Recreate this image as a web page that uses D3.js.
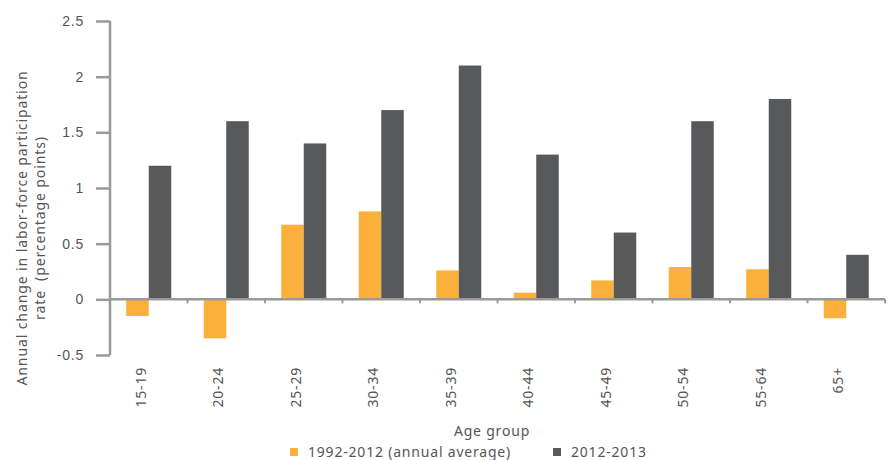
<!DOCTYPE html>
<html>
<head>
<meta charset="utf-8">
<script src="https://cdn.jsdelivr.net/npm/d3@7"></script>
<style>
  html, body { margin: 0; padding: 0; background: #fff; }
  svg { display: block; font-family: "Noto Sans", Roboto, sans-serif; }
  svg text { letter-spacing: 0.8px; }
</style>
</head>
<body>
<svg id="chart" width="890" height="460"></svg>
<script>
// Age groups on the x axis
const ageGroups = ["15-19", "20-24", "25-29", "30-34", "35-39", "40-44", "45-49", "50-54", "55-64", "65+"];
// Annual change in participation rate, percentage points
const longRun = [-0.15, -0.35, 0.67, 0.79, 0.26, 0.06, 0.17, 0.29, 0.27, -0.17];
const recent = [1.2, 1.6, 1.4, 1.7, 2.1, 1.3, 0.6, 1.6, 1.8, 0.4];
const seriesNames = ["1992-2012 (annual average)", "2012-2013"];
const yTicks = [-0.5, 0, 0.5, 1, 1.5, 2, 2.5];
const yTickLabels = ["-0.5", "0", "0.5", "1", "1.5", "2", "2.5"];

const colors = ["#FBB03B", "#58595B"];
const axisColor = "#999999";
const textColor = "#555555";

const svg = d3.select("#chart");
const plotLeft = 110, plotRight = 885, plotTop = 21, plotBottom = 355;

const x = d3.scaleBand().domain(ageGroups).range([plotLeft, plotRight]).paddingInner(0).paddingOuter(0);
const y = d3.scaleLinear().domain([-0.5, 2.5]).range([plotBottom, plotTop]);

const barW = 22.5;
const rows = ageGroups.map((g, i) => ({ g, vals: [longRun[i], recent[i]] }));

// Bars
const groups = svg.append("g").selectAll("g").data(rows).join("g")
  .attr("transform", d => `translate(${x(d.g) + x.bandwidth() / 2 - barW},0)`);
groups.selectAll("rect").data(d => d.vals).join("rect")
  .attr("x", (v, j) => j * barW)
  .attr("width", barW)
  .attr("y", v => y(Math.max(0, v)))
  .attr("height", v => Math.abs(y(v) - y(0)))
  .attr("fill", (v, j) => colors[j]);

// Y axis
const yAxis = svg.append("g").attr("transform", `translate(${plotLeft},0)`)
  .call(d3.axisLeft(y).tickValues(yTicks).tickSize(14).tickPadding(12)
    .tickFormat((d, i) => yTickLabels[i]));
yAxis.select(".domain").attr("stroke", axisColor).attr("stroke-width", 2.5)
  .attr("d", `M0,${plotTop}V${plotBottom}`);
yAxis.selectAll(".tick line").attr("stroke", axisColor).attr("stroke-width", 2.5);
yAxis.selectAll(".tick text").attr("fill", textColor).style("font-size", "14px");

// X axis along zero
const xAxis = svg.append("g").attr("transform", `translate(0,${y(0)})`);
xAxis.append("line").attr("x1", plotLeft).attr("x2", plotRight).attr("stroke", axisColor).attr("stroke-width", 2.5);
xAxis.selectAll(".tk").data(ageGroups.slice(1).concat(["end"])).join("line")
  .attr("class", "tk")
  .attr("x1", (d, i) => plotLeft + (i + 1) * x.bandwidth())
  .attr("x2", (d, i) => plotLeft + (i + 1) * x.bandwidth())
  .attr("y1", 0).attr("y2", 4)
  .attr("stroke", axisColor).attr("stroke-width", 2);

// Category labels, rotated
svg.append("g").selectAll("text").data(ageGroups).join("text")
  .attr("transform", d => `translate(${x(d) + x.bandwidth() / 2 - 8},367) rotate(-90)`)
  .attr("text-anchor", "end")
  .attr("dy", "0.35em")
  .attr("fill", textColor)
  .style("font-size", "14px")
  .text(d => d);

// Axis titles
svg.append("text").attr("x", 492).attr("y", 436).attr("text-anchor", "middle")
  .attr("fill", textColor).style("font-size", "14px").text("Age group");

const yTitle = svg.append("text").attr("transform", "translate(27,228) rotate(-90)")
  .attr("text-anchor", "middle").attr("fill", textColor)
  .style("font-size", "14px").style("letter-spacing", "0.9px").style("white-space", "pre");
yTitle.append("tspan").attr("x", 0).attr("dy", 0).text("Annual change in labor-force participation");
yTitle.append("tspan").attr("x", 0).attr("dy", "1.25em").text("rate  (percentage points)");

// Legend
const legendX = [290, 553];
const legend = svg.append("g").selectAll("g").data(seriesNames).join("g")
  .attr("transform", (d, i) => `translate(${legendX[i]},452)`);
legend.append("rect").attr("x", 0).attr("y", -4).attr("width", 8).attr("height", 8)
  .attr("fill", (d, i) => colors[i]);
legend.append("text").attr("x", 18).attr("dy", "0.35em").attr("fill", textColor)
  .style("font-size", "14px").text(d => d);
</script>
</body>
</html>
